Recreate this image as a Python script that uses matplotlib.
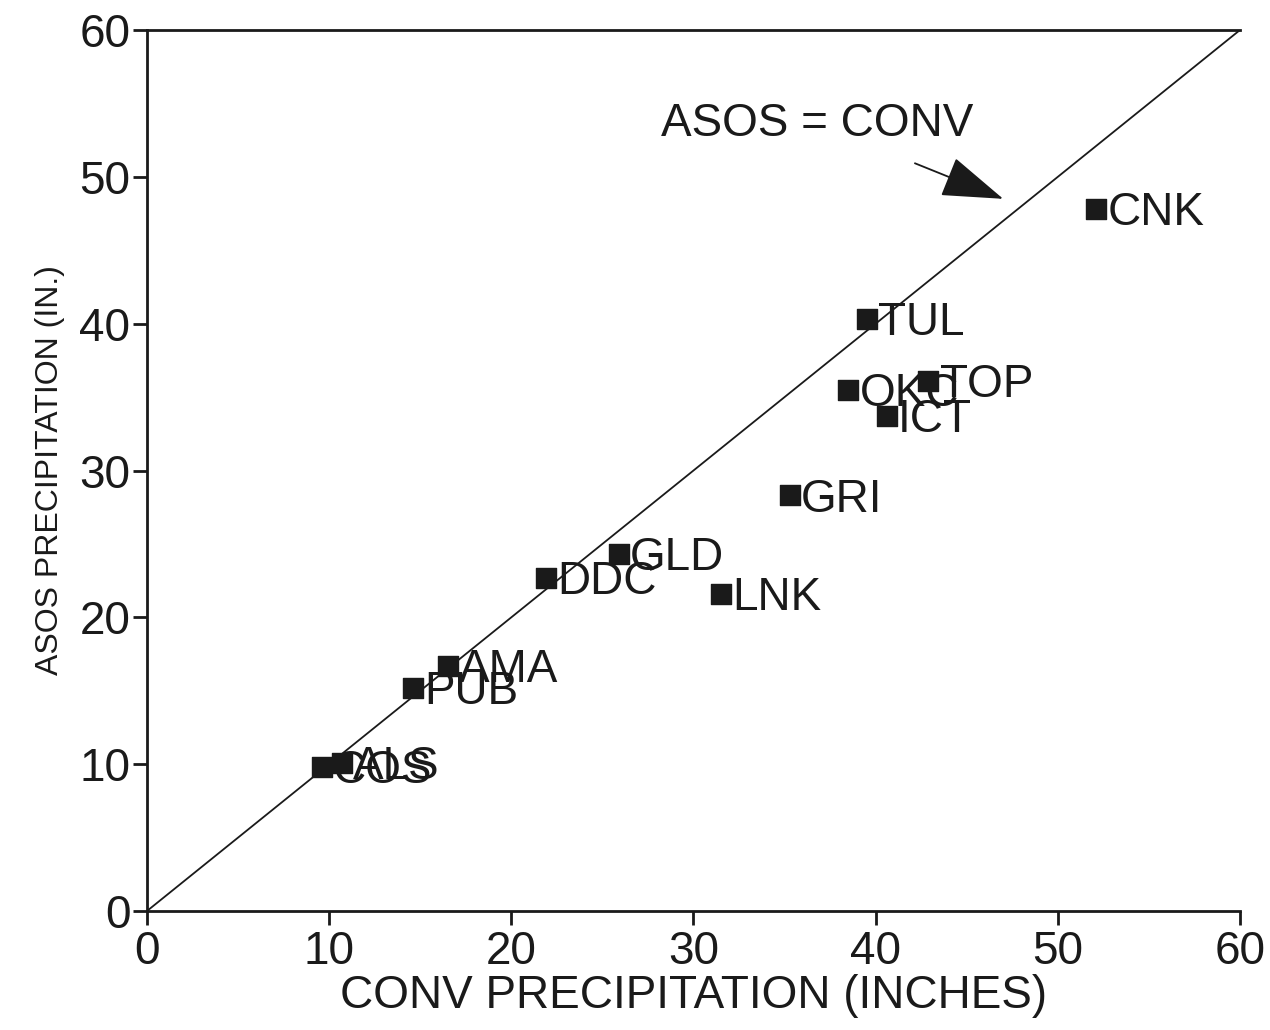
import matplotlib.pyplot as plt

plt.rcParams['font.family'] = ['Liberation Sans', 'DejaVu Sans']

stations = ['CNK', 'TUL', 'TOP', 'OKC', 'ICT', 'GRI', 'GLD', 'DDC', 'LNK',
            'AMA', 'PUB', 'ALS', 'COS']
conv = [52.1, 39.5, 42.9, 38.5, 40.6, 35.3, 25.9, 21.9, 31.5, 16.5, 14.6, 10.7, 9.6]
asos = [47.8, 40.3, 36.1, 35.5, 33.7, 28.3, 24.3, 22.7, 21.6, 16.7, 15.2, 10.1, 9.8]
ticks = [0, 10, 20, 30, 40, 50, 60]

fig = plt.figure(figsize=(12.7, 10.3), dpi=100)
ax = fig.add_axes([0.1157, 0.1155, 0.8607, 0.8554])

# 1:1 line
ax.plot([0, 60], [0, 60], color='#1a1a1a', linewidth=1.3)

ax.scatter(conv, asos, marker='s', s=190, color='#1a1a1a', zorder=3)
for name, x, y in zip(stations, conv, asos):
    ax.annotate(name, (x, y), xytext=(8, -3), textcoords='offset points',
                fontsize=33, va='center', ha='left', color='#1a1a1a')

ax.annotate('ASOS = CONV', xy=(47.0, 48.5), xytext=(36.8, 53.6),
            fontsize=33, ha='center', va='center', color='#1a1a1a',
            arrowprops=dict(arrowstyle='-|>,head_length=1.2,head_width=0.4',
                            color='#1a1a1a', lw=1.3, shrinkA=28, shrinkB=0))

ax.set_xlim(0, 60)
ax.set_ylim(0, 60)
ax.set_xticks(ticks)
ax.set_yticks(ticks)
ax.tick_params(labelsize=33, length=10, width=2, direction='out',
               colors='#1a1a1a')
ax.tick_params(axis='x', pad=4)
ax.tick_params(axis='y', pad=2)
ax.spines['right'].set_visible(False)
for s in ['left', 'bottom', 'top']:
    ax.spines[s].set_linewidth(2)
    ax.spines[s].set_color('#1a1a1a')

ax.set_xlabel('CONV PRECIPITATION (INCHES)', fontsize=33, labelpad=0, color='#1a1a1a')
ax.set_ylabel('ASOS PRECIPITATION (IN.)', fontsize=23, labelpad=10, color='#1a1a1a')

plt.savefig('out.png', dpi=100)
